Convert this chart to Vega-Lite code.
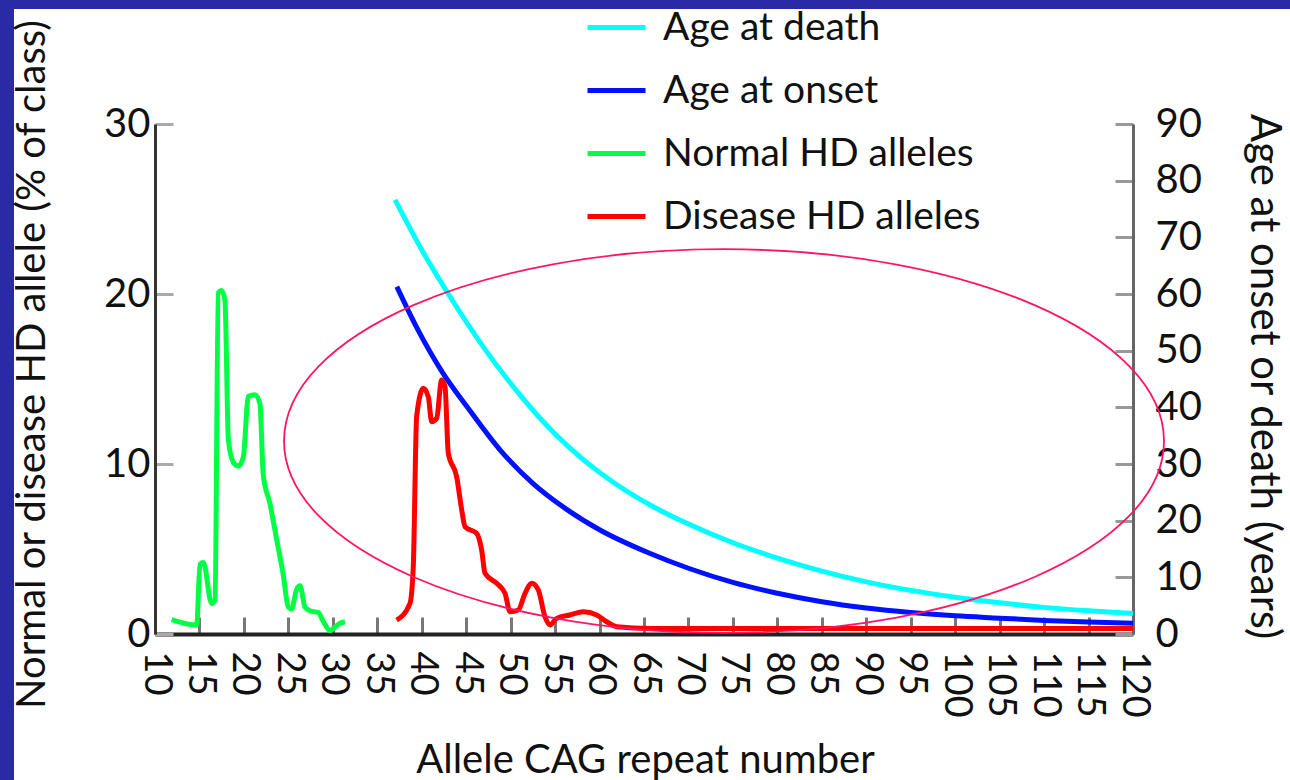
{
  "$schema": "https://vega.github.io/schema/vega-lite/v6.json",
  "width": 1276,
  "height": 771,
  "autosize": {"type": "none"},
  "padding": {"left": 14, "top": 9, "right": 0, "bottom": 0},
  "background": "#2A2AA6",
  "config": {
    "view": {"fill": "white", "stroke": null},
    "font": "Lato",
    "axis": {"grid": false, "labelColor": "#111", "titleColor": "#111", "titleFontWeight": "normal", "labelFont": "Lato", "titleFont": "Lato"},
    "legend": {"labelFont": "Lato"}
  },
  "datasets": {
    "ages": [
      {"n": 37.0, "age": 76.6, "series": "Age at death"},
      {"n": 40.0, "age": 67.8, "series": "Age at death"},
      {"n": 43.0, "age": 60.0, "series": "Age at death"},
      {"n": 47.0, "age": 50.5, "series": "Age at death"},
      {"n": 51.0, "age": 42.3, "series": "Age at death"},
      {"n": 55.0, "age": 35.3, "series": "Age at death"},
      {"n": 58.0, "age": 31.0, "series": "Age at death"},
      {"n": 62.0, "age": 26.3, "series": "Age at death"},
      {"n": 66.0, "age": 22.5, "series": "Age at death"},
      {"n": 70.0, "age": 19.4, "series": "Age at death"},
      {"n": 75.0, "age": 16.1, "series": "Age at death"},
      {"n": 80.0, "age": 13.4, "series": "Age at death"},
      {"n": 85.0, "age": 11.1, "series": "Age at death"},
      {"n": 90.0, "age": 9.2, "series": "Age at death"},
      {"n": 95.0, "age": 7.7, "series": "Age at death"},
      {"n": 100.0, "age": 6.5, "series": "Age at death"},
      {"n": 105.0, "age": 5.5, "series": "Age at death"},
      {"n": 110.0, "age": 4.7, "series": "Age at death"},
      {"n": 115.0, "age": 4.1, "series": "Age at death"},
      {"n": 120.0, "age": 3.6, "series": "Age at death"},
      {"n": 37.2, "age": 61.3, "series": "Age at onset"},
      {"n": 39.4, "age": 54.2, "series": "Age at onset"},
      {"n": 42.4, "age": 46.0, "series": "Age at onset"},
      {"n": 45.1, "age": 40.1, "series": "Age at onset"},
      {"n": 48.8, "age": 32.5, "series": "Age at onset"},
      {"n": 52.5, "age": 26.6, "series": "Age at onset"},
      {"n": 56.3, "age": 22.0, "series": "Age at onset"},
      {"n": 60.0, "age": 18.4, "series": "Age at onset"},
      {"n": 65.7, "age": 14.2, "series": "Age at onset"},
      {"n": 70.0, "age": 11.6, "series": "Age at onset"},
      {"n": 75.0, "age": 9.1, "series": "Age at onset"},
      {"n": 80.0, "age": 7.2, "series": "Age at onset"},
      {"n": 85.0, "age": 5.7, "series": "Age at onset"},
      {"n": 90.0, "age": 4.6, "series": "Age at onset"},
      {"n": 95.0, "age": 3.8, "series": "Age at onset"},
      {"n": 100.0, "age": 3.2, "series": "Age at onset"},
      {"n": 105.0, "age": 2.8, "series": "Age at onset"},
      {"n": 110.0, "age": 2.4, "series": "Age at onset"},
      {"n": 115.0, "age": 2.1, "series": "Age at onset"},
      {"n": 120.0, "age": 1.9, "series": "Age at onset"}
    ],
    "alleles": [
      {"n": 11.87, "pct": 0.85, "series": "Normal HD alleles"},
      {"n": 14.69, "pct": 0.53, "series": "Normal HD alleles"},
      {"n": 15.06, "pct": 4.1, "series": "Normal HD alleles"},
      {"n": 15.44, "pct": 4.2, "series": "Normal HD alleles"},
      {"n": 16.37, "pct": 1.79, "series": "Normal HD alleles"},
      {"n": 16.75, "pct": 2.0, "series": "Normal HD alleles"},
      {"n": 17.12, "pct": 20.07, "series": "Normal HD alleles"},
      {"n": 17.5, "pct": 20.2, "series": "Normal HD alleles"},
      {"n": 17.87, "pct": 19.6, "series": "Normal HD alleles"},
      {"n": 18.25, "pct": 11.45, "series": "Normal HD alleles"},
      {"n": 18.81, "pct": 10.1, "series": "Normal HD alleles"},
      {"n": 19.37, "pct": 9.88, "series": "Normal HD alleles"},
      {"n": 19.93, "pct": 10.4, "series": "Normal HD alleles"},
      {"n": 20.5, "pct": 13.98, "series": "Normal HD alleles"},
      {"n": 21.25, "pct": 14.08, "series": "Normal HD alleles"},
      {"n": 21.8, "pct": 13.55, "series": "Normal HD alleles"},
      {"n": 22.18, "pct": 9.35, "series": "Normal HD alleles"},
      {"n": 22.93, "pct": 7.67, "series": "Normal HD alleles"},
      {"n": 23.68, "pct": 5.57, "series": "Normal HD alleles"},
      {"n": 24.43, "pct": 3.47, "series": "Normal HD alleles"},
      {"n": 24.99, "pct": 1.58, "series": "Normal HD alleles"},
      {"n": 25.37, "pct": 1.47, "series": "Normal HD alleles"},
      {"n": 25.93, "pct": 2.63, "series": "Normal HD alleles"},
      {"n": 26.31, "pct": 2.84, "series": "Normal HD alleles"},
      {"n": 26.87, "pct": 1.58, "series": "Normal HD alleles"},
      {"n": 27.43, "pct": 1.37, "series": "Normal HD alleles"},
      {"n": 28.37, "pct": 1.26, "series": "Normal HD alleles"},
      {"n": 28.93, "pct": 0.74, "series": "Normal HD alleles"},
      {"n": 29.68, "pct": 0.21, "series": "Normal HD alleles"},
      {"n": 30.05, "pct": 0.32, "series": "Normal HD alleles"},
      {"n": 30.8, "pct": 0.63, "series": "Normal HD alleles"},
      {"n": 31.37, "pct": 0.7, "series": "Normal HD alleles"},
      {"n": 37.18, "pct": 0.82, "series": "Disease HD alleles"},
      {"n": 38.68, "pct": 1.8, "series": "Disease HD alleles"},
      {"n": 39.05, "pct": 3.96, "series": "Disease HD alleles"},
      {"n": 39.43, "pct": 12.8, "series": "Disease HD alleles"},
      {"n": 40.18, "pct": 14.45, "series": "Disease HD alleles"},
      {"n": 40.74, "pct": 13.96, "series": "Disease HD alleles"},
      {"n": 41.12, "pct": 12.49, "series": "Disease HD alleles"},
      {"n": 41.68, "pct": 12.69, "series": "Disease HD alleles"},
      {"n": 42.24, "pct": 14.94, "series": "Disease HD alleles"},
      {"n": 42.62, "pct": 14.55, "series": "Disease HD alleles"},
      {"n": 42.99, "pct": 10.63, "series": "Disease HD alleles"},
      {"n": 43.93, "pct": 9.25, "series": "Disease HD alleles"},
      {"n": 44.5, "pct": 7.29, "series": "Disease HD alleles"},
      {"n": 44.87, "pct": 6.31, "series": "Disease HD alleles"},
      {"n": 46.18, "pct": 5.92, "series": "Disease HD alleles"},
      {"n": 46.74, "pct": 4.94, "series": "Disease HD alleles"},
      {"n": 47.12, "pct": 3.57, "series": "Disease HD alleles"},
      {"n": 48.43, "pct": 2.98, "series": "Disease HD alleles"},
      {"n": 49.37, "pct": 2.39, "series": "Disease HD alleles"},
      {"n": 49.93, "pct": 1.31, "series": "Disease HD alleles"},
      {"n": 50.86, "pct": 1.41, "series": "Disease HD alleles"},
      {"n": 51.62, "pct": 2.39, "series": "Disease HD alleles"},
      {"n": 52.37, "pct": 2.98, "series": "Disease HD alleles"},
      {"n": 53.11, "pct": 2.59, "series": "Disease HD alleles"},
      {"n": 53.86, "pct": 1.02, "series": "Disease HD alleles"},
      {"n": 54.43, "pct": 0.53, "series": "Disease HD alleles"},
      {"n": 55.18, "pct": 0.92, "series": "Disease HD alleles"},
      {"n": 56.68, "pct": 1.12, "series": "Disease HD alleles"},
      {"n": 58.17, "pct": 1.31, "series": "Disease HD alleles"},
      {"n": 59.68, "pct": 1.12, "series": "Disease HD alleles"},
      {"n": 60.81, "pct": 0.72, "series": "Disease HD alleles"},
      {"n": 61.93, "pct": 0.43, "series": "Disease HD alleles"},
      {"n": 65.68, "pct": 0.33, "series": "Disease HD alleles"},
      {"n": 75.0, "pct": 0.32, "series": "Disease HD alleles"},
      {"n": 90.0, "pct": 0.32, "series": "Disease HD alleles"},
      {"n": 105.0, "pct": 0.32, "series": "Disease HD alleles"},
      {"n": 120.0, "pct": 0.32, "series": "Disease HD alleles"}
    ],
    "ellipse": [
      {"n": 74.0, "pct": 11.35}
    ]
  },
  "encoding": {
    "x": {
      "field": "n",
      "type": "quantitative",
      "scale": {"domain": [10, 120], "range": [141, 1119], "nice": false, "zero": false},
      "axis": {
        "orient": "bottom",
        "offset": -146,
        "values": [10, 15, 20, 25, 30, 35, 40, 45, 50, 55, 60, 65, 70, 75, 80, 85, 90, 95, 100, 105, 110, 115, 120],
        "tickSize": -17,
        "tickWidth": 3,
        "tickColor": "#777",
        "domainColor": "#222",
        "domainWidth": 4,
        "labelAngle": 90,
        "labelFontSize": 38,
        "labelPadding": 34,
        "title": "Allele CAG repeat number",
        "titleFontSize": 40,
        "titleX": 631,
        "titleY": 138,
        "titleBaseline": "alphabetic",
        "titleAlign": "center",
        "titleAngle": 0
      }
    }
  },
  "layer": [
    {
      "data": {"name": "ages"},
      "mark": {"type": "line", "strokeWidth": 5, "interpolate": "monotone"},
      "encoding": {
        "y": {
          "field": "age",
          "type": "quantitative",
          "scale": {"domain": [0, 90], "range": [625, 115], "nice": false, "zero": true},
          "axis": {
            "orient": "right",
            "offset": -157,
            "values": [0, 10, 20, 30, 40, 50, 60, 70, 80, 90],
            "tickSize": -18,
            "tickWidth": 3,
            "tickColor": "#999",
            "domainColor": "#666",
            "domainWidth": 3,
            "labelFontSize": 40,
            "labelPadding": 40,
            "title": "Age at onset or death (years)",
            "titleFontSize": 42,
            "titleAngle": 90,
            "titleX": 130,
            "titleY": 367,
            "titleBaseline": "middle",
            "titleAlign": "center"
          }
        },
        "color": {
          "field": "series",
          "type": "nominal",
          "scale": {
            "domain": ["Age at death", "Age at onset", "Normal HD alleles", "Disease HD alleles"],
            "range": ["#00FFFF", "#0011FF", "#00FF44", "#FF0000"]
          },
          "legend": {
            "orient": "none",
            "legendX": 571,
            "legendY": -13,
            "title": null,
            "symbolType": "stroke",
            "symbolSize": 3364,
            "symbolStrokeWidth": 5,
            "labelFontSize": 39,
            "labelLimit": 0,
            "labelOffset": 15,
            "labelColor": "#111",
            "rowPadding": 11,
            "padding": 0
          }
        }
      }
    },
    {
      "data": {"name": "alleles"},
      "mark": {"type": "line", "strokeWidth": 5, "interpolate": "monotone"},
      "encoding": {
        "y": {
          "field": "pct",
          "type": "quantitative",
          "scale": {"domain": [0, 30], "range": [625, 115], "nice": false, "zero": true},
          "axis": {
            "orient": "left",
            "offset": -141,
            "values": [0, 10, 20, 30],
            "tickSize": -18,
            "tickWidth": 3,
            "tickColor": "#aaa",
            "domainColor": "#333",
            "domainWidth": 3,
            "labelFontSize": 40,
            "labelPadding": 23,
            "title": "Normal or disease HD allele (% of class)",
            "titleFontSize": 40,
            "titleAngle": -90,
            "titleX": -123,
            "titleY": 355,
            "titleBaseline": "middle",
            "titleAlign": "center"
          }
        },
        "color": {
          "field": "series",
          "type": "nominal",
          "scale": {
            "domain": ["Age at death", "Age at onset", "Normal HD alleles", "Disease HD alleles"],
            "range": ["#00FFFF", "#0011FF", "#00FF44", "#FF0000"]
          },
          "legend": {
            "orient": "none",
            "legendX": 571,
            "legendY": -13,
            "title": null,
            "symbolType": "stroke",
            "symbolSize": 3364,
            "symbolStrokeWidth": 5,
            "labelFontSize": 39,
            "labelLimit": 0,
            "labelOffset": 15,
            "labelColor": "#111",
            "rowPadding": 11,
            "padding": 0
          }
        }
      }
    },
    {
      "data": {"name": "ellipse"},
      "mark": {
        "type": "point",
        "shape": "M -1 0 C -1 -0.2409 -0.5523 -0.436 0 -0.436 C 0.5523 -0.436 1 -0.2409 1 0 C 1 0.2409 0.5523 0.436 0 0.436 C -0.5523 0.436 -1 0.2409 -1 0 Z",
        "size": 774400,
        "filled": false,
        "stroke": "#FF1466",
        "strokeWidth": 1.8,
        "opacity": 1
      },
      "encoding": {
        "y": {
          "field": "pct",
          "type": "quantitative",
          "scale": {"domain": [0, 30], "range": [625, 115], "nice": false, "zero": true},
          "axis": null
        }
      }
    }
  ],
  "resolve": {"scale": {"y": "independent"}}
}
